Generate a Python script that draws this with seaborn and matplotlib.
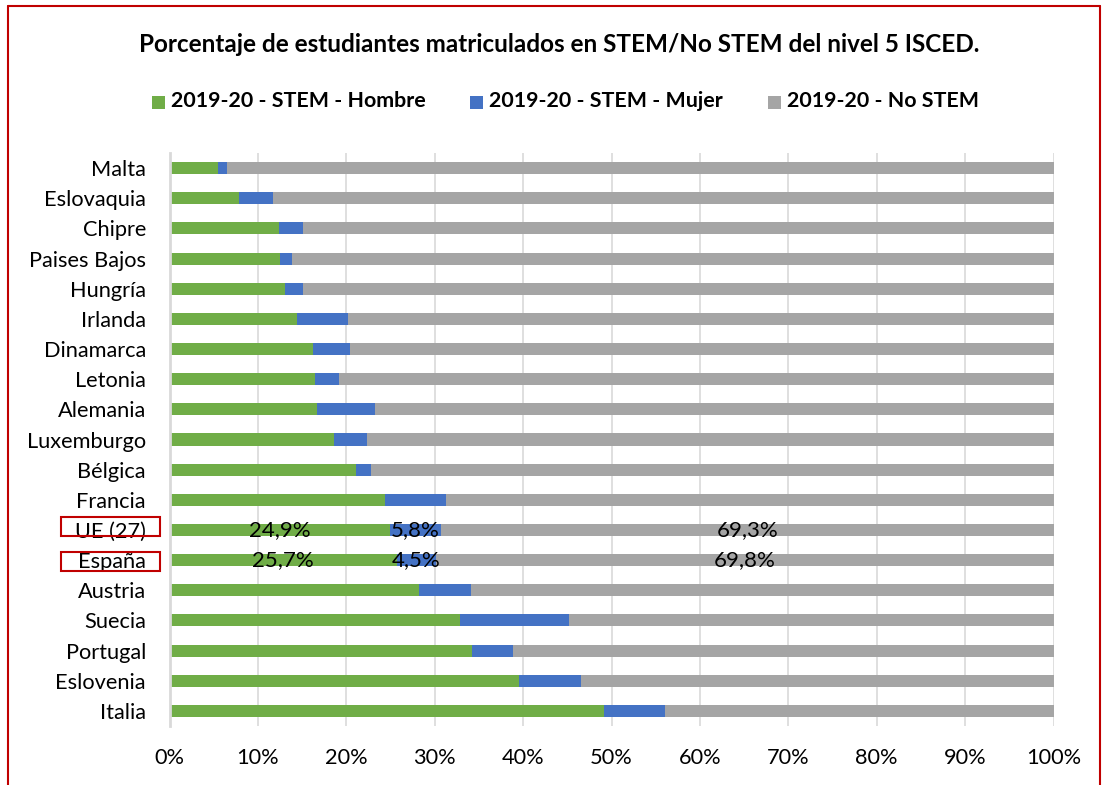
import matplotlib
matplotlib.use("Agg")
import matplotlib.pyplot as plt
import seaborn as sns
import numpy as np
import pandas as pd
from matplotlib.patches import Rectangle
from matplotlib.lines import Line2D

countries = ["Malta", "Eslovaquia", "Chipre", "Paises Bajos", "Hungría", "Irlanda",
             "Dinamarca", "Letonia", "Alemania", "Luxemburgo", "Bélgica", "Francia",
             "UE (27)", "España", "Austria", "Suecia", "Portugal", "Eslovenia", "Italia"]
hombre = [5.5, 7.9, 12.4, 12.5, 13.1, 14.4, 16.2, 16.5, 16.7, 18.6, 21.1, 24.4,
          24.9, 25.7, 28.2, 32.9, 34.2, 39.5, 49.1]
mujer = [1.0, 3.8, 2.7, 1.4, 2.0, 5.8, 4.2, 2.7, 6.5, 3.7, 1.7, 6.9,
         5.8, 4.5, 5.9, 12.3, 4.7, 7.0, 6.9]
no_stem = [93.5, 88.3, 84.9, 86.1, 84.9, 79.8, 79.6, 80.8, 76.8, 77.7, 77.2, 68.7,
           69.3, 69.8, 65.9, 54.8, 61.1, 53.5, 44.0]
series_names = ["2019-20 - STEM - Hombre", "2019-20 - STEM - Mujer", "2019-20 - No STEM"]
labeled = ["UE (27)", "España"]
xticks = [0, 10, 20, 30, 40, 50, 60, 70, 80, 90, 100]

c_green = "#70AD47"
c_blue = "#4472C4"
c_gray = "#A5A5A5"

sns.set_theme(style="white")
plt.rcParams["font.family"] = ["Lato", "DejaVu Sans"]

W, H = 1102, 785
fig = plt.figure(figsize=(W / 100, H / 100), dpi=100)
ax = fig.add_axes([169.5 / W, (H - 726) / H, (1053.5 - 169.5) / W, (726 - 153) / H])

df = pd.DataFrame({"pais": countries, "h": hombre, "m": mujer, "n": no_stem})
df["hm"] = df["h"] + df["m"]
df["tot"] = df["hm"] + df["n"]

for col, colr in [("tot", c_gray), ("hm", c_blue), ("h", c_green)]:
    sns.barplot(data=df, x=col, y="pais", orient="h", color=colr, width=0.4,
                saturation=1, ax=ax, zorder=3, edgecolor="none")

ax.set_xlim(0, 100)
ax.set_ylim(len(countries) - 0.5, -0.5)
ax.set_xticks(xticks)
ax.set_xticklabels([f"{t}%" for t in xticks])
ax.set_xlabel("")
ax.set_ylabel("")
ax.grid(axis="x", color="#D9D9D9", lw=1.2, zorder=0)
ax.grid(axis="y", visible=False)
for s in ["top", "right", "bottom"]:
    ax.spines[s].set_visible(False)
ax.spines["left"].set_color("#D9D9D9")
ax.spines["left"].set_linewidth(2)
ax.spines["left"].set_zorder(4)
ax.tick_params(axis="both", length=0, labelsize=15.7, colors="black")
ax.tick_params(axis="x", pad=16)
ax.tick_params(axis="y", pad=17)

# data labels
for i, row in df.iterrows():
    if row["pais"] in labeled:
        for start, val in [(0, row["h"]), (row["h"], row["m"]), (row["hm"], row["n"])]:
            ax.text(start + val / 2, i, f"{val:.1f}%".replace(".", ","), ha="center",
                    va="center", fontsize=16, color="black", zorder=5)

# title
fig.text(559 / W, 1 - 45 / H,
         "Porcentaje de estudiantes matriculados en STEM/No STEM del nivel 5 ISCED.",
         ha="center", va="center", fontsize=17.5, fontweight="bold", color="black")

# legend
leg = [(152, c_green), (470, c_blue), (768, c_gray)]
for (x0, colr), name in zip(leg, series_names):
    fig.patches.append(Rectangle((x0 / W, 1 - 109 / H), 13 / W, 13 / H,
                                 transform=fig.transFigure, facecolor=colr,
                                 edgecolor="none"))
    fig.text((x0 + 19) / W, 1 - 101 / H, name, ha="left", va="center",
             fontsize=15.4, fontweight="bold", color="black")

# red boxes around labels
for y0 in [517, 552]:
    fig.patches.append(Rectangle((61 / W, 1 - (y0 + 19) / H), 99 / W, 19 / H,
                                 transform=fig.transFigure, facecolor="none",
                                 edgecolor="#C00000", lw=1.5))

# red outer border
for xs, ys in [([8, 8], [6, H]), ([8, 1100], [6, 6]), ([1100, 1100], [6, H])]:
    fig.add_artist(Line2D([x / W for x in xs], [1 - y / H for y in ys],
                          transform=fig.transFigure, color="#C00000", lw=1.5))

fig.savefig("out.png", dpi=100)
